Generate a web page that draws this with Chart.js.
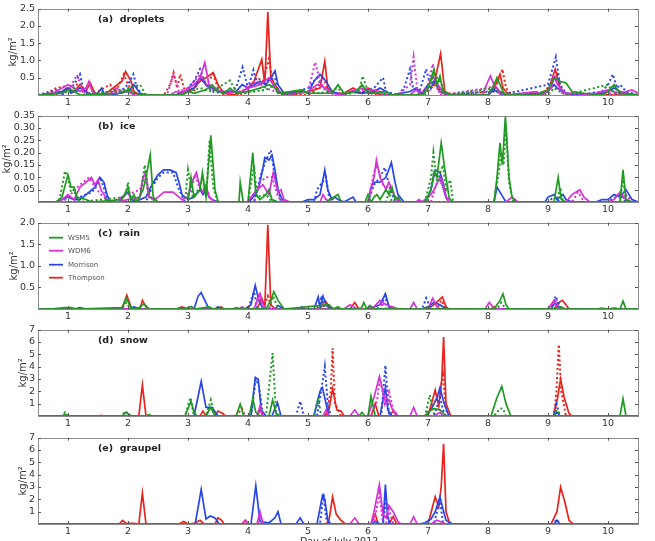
<!DOCTYPE html>
<html>
<head>
<meta charset="utf-8">
<script src="https://cdn.jsdelivr.net/npm/chart.js@4.4.1/dist/chart.umd.min.js"></script>
<style>
  html, body { margin: 0; padding: 0; background: #fff; overflow: hidden; }
  #wrap { position: relative; width: 655px; height: 541px; }
  #wrap canvas { position: absolute; left: 0; }
  #xtitle { position: absolute; top: 535px; left: 300px; white-space: nowrap;
            font: 9.5px "DejaVu Sans", sans-serif; color: #333; line-height: 11px; }
</style>
</head>
<body>
<div id="wrap">
  <canvas id="c0" width="655" height="118"></canvas>
  <canvas id="c1" width="655" height="118"></canvas>
  <canvas id="c2" width="655" height="118"></canvas>
  <canvas id="c3" width="655" height="118"></canvas>
  <canvas id="c4" width="655" height="118"></canvas>
  <div id="xtitle">Day of July 2012</div>
</div>
<script>
// ---- tick labels
const dayTicks = [1, 2, 3, 4, 5, 6, 7, 8, 9, 10];
const dropletsTicks = [0.5, 1.0, 1.5, 2.0, 2.5];
const iceTicks = [0.05, 0.10, 0.15, 0.20, 0.25, 0.30, 0.35];
const rainTicks = [0.5, 1.0, 1.5, 2.0];
const snowTicks = [1, 2, 3, 4, 5, 6, 7];
const graupelTicks = [1, 2, 3, 4, 5, 6, 7];

const models = ["WSM5", "WDM6", "Morrison", "Thompson"];
const modelColors = ["#1f9a22", "#d633d6", "#2846e6", "#e8241f"];

// ---- (a) droplets, [day, kg/m2]
const dropletsWSM5 = [[0.5,0],[0.6,0],[0.9,0.05],[1.0,0.15],[1.1,0.1],[1.2,0],[1.9,0.05],[2.0,0.15],[2.1,0.05],[2.3,0],[2.9,0],[3.0,0.1],[3.1,0.05],[3.3,0.15],[3.4,0.3],[3.5,0.1],[3.6,0.05],[3.7,0.2],[3.8,0.05],[4.0,0.1],[4.2,0.2],[4.35,0.3],[4.45,0.2],[4.5,0.05],[4.7,0.1],[4.9,0.15],[5.0,0.05],[5.4,0.05],[5.5,0.3],[5.6,0.05],[5.8,0.1],[5.9,0.3],[6.0,0.05],[6.3,0.1],[6.4,0],[6.9,0],[7.0,0.2],[7.1,0.75],[7.15,0.3],[7.2,0.55],[7.25,0.1],[7.4,0],[8.0,0],[8.1,0.3],[8.15,0.5],[8.25,0.1],[8.3,0],[8.8,0],[9.0,0.15],[9.1,0.5],[9.2,0.4],[9.3,0.35],[9.4,0.1],[9.6,0.05],[9.9,0],[10.0,0.1],[10.1,0.3],[10.2,0.05],[10.5,0]];
const dropletsWSM5Dot = [[0.5,0],[0.6,0],[1.0,0.1],[1.1,0.2],[1.2,0],[1.95,0.15],[2.2,0.3],[2.3,0],[2.9,0],[3.0,0.1],[3.2,0.2],[3.4,0.1],[3.7,0.42],[3.8,0.1],[3.9,0.05],[4.3,0.15],[4.45,0.3],[4.55,0],[5.0,0.1],[5.2,0.05],[5.5,0.2],[5.6,0],[5.85,0.1],[5.91,0.55],[6.0,0.1],[6.2,0.05],[6.4,0],[6.95,0],[7.05,0.3],[7.1,0.6],[7.2,0.4],[7.3,0],[8.1,0.2],[8.2,0.1],[8.3,0],[9.0,0],[9.1,0.2],[9.2,0.1],[9.3,0],[10.0,0.3],[10.1,0.05],[10.5,0]];
const dropletsWDM6 = [[0.5,0],[0.7,0],[0.9,0.2],[1.0,0.3],[1.1,0.2],[1.2,0.1],[1.3,0.2],[1.35,0.4],[1.4,0.1],[1.5,0],[1.7,0],[1.8,0.2],[1.9,0.1],[2.0,0.1],[2.1,0],[2.7,0],[2.8,0.1],[2.9,0.05],[3.1,0.3],[3.2,0.5],[3.28,0.94],[3.35,0.3],[3.45,0.2],[3.6,0.05],[3.9,0.1],[4.0,0.2],[4.2,0.3],[4.35,0.5],[4.45,0.2],[4.6,0],[5.0,0.1],[5.15,0.3],[5.3,0.2],[5.4,0.05],[5.6,0],[5.7,0.1],[5.9,0.2],[6.0,0.1],[6.1,0.15],[6.2,0.1],[6.3,0],[6.7,0],[6.8,0.15],[6.9,0],[7.0,0.2],[7.08,0.55],[7.2,0.2],[7.3,0],[7.9,0],[8.04,0.55],[8.1,0.3],[8.2,0.1],[8.3,0],[8.8,0.1],[8.9,0],[9.05,0.2],[9.1,0.5],[9.2,0.2],[9.3,0.05],[9.5,0.05],[9.7,0],[9.9,0.1],[10.0,0.15],[10.2,0.05],[10.4,0.15],[10.5,0.05]];
const dropletsWDM6Dot = [[0.5,0],[0.8,0],[1.0,0.1],[1.15,0.58],[1.25,0.1],[1.4,0],[1.85,0.1],[2.0,0.2],[2.1,0],[2.65,0],[2.76,0.6],[2.85,0.1],[3.0,0.2],[3.2,0.6],[3.35,0.2],[3.5,0.1],[3.9,0.1],[4.0,0.3],[4.15,0.4],[4.3,0.2],[4.45,0.1],[4.6,0],[5.0,0.1],[5.12,0.95],[5.2,0.4],[5.3,0.1],[5.5,0],[5.8,0.1],[6.0,0.2],[6.1,0.05],[6.5,0],[6.7,0.3],[6.76,1.1],[6.82,0.2],[6.9,0.05],[7.0,0.3],[7.08,0.9],[7.15,0.3],[7.2,0],[8.0,0.2],[8.1,0.3],[8.2,0],[9.0,0.1],[9.1,0.6],[9.2,0.1],[9.3,0],[9.8,0.05],[9.9,0.1],[10.0,0.05],[10.5,0]];
const dropletsMorrison = [[0.5,0],[0.6,0],[0.75,0.05],[0.9,0.1],[0.98,0.2],[1.05,0.05],[1.2,0.2],[1.3,0.1],[1.4,0],[1.5,0.05],[1.56,0.2],[1.6,0.05],[1.7,0],[2.0,0.1],[2.1,0.3],[2.2,0.05],[2.3,0],[2.8,0],[2.95,0.1],[3.1,0.2],[3.2,0.5],[3.3,0.3],[3.4,0.2],[3.5,0.1],[3.8,0.1],[3.9,0.3],[4.0,0.2],[4.1,0.3],[4.2,0.4],[4.3,0.3],[4.4,0.55],[4.45,0.7],[4.5,0.3],[4.6,0.05],[4.9,0.1],[5.0,0.05],[5.1,0.4],[5.2,0.6],[5.3,0.4],[5.4,0.1],[5.6,0],[5.7,0.1],[5.9,0.05],[6.1,0.1],[6.2,0.2],[6.3,0.1],[6.4,0],[6.7,0.1],[6.8,0.2],[6.9,0.05],[7.0,0.3],[7.1,0.4],[7.2,0.2],[7.3,0],[8.0,0],[8.1,0.15],[8.2,0.05],[8.3,0],[8.9,0.05],[9.0,0.1],[9.1,0.3],[9.15,0.2],[9.3,0.05],[9.5,0],[9.9,0.05],[10.0,0.1],[10.1,0.2],[10.2,0.1],[10.3,0.05],[10.5,0]];
const dropletsMorrisonDot = [[0.5,0],[0.7,0.1],[0.8,0.15],[0.9,0],[1.1,0.3],[1.2,0.6],[1.25,0.2],[1.3,0.1],[1.4,0],[1.8,0],[2.0,0.3],[2.09,0.6],[2.15,0.2],[2.25,0],[2.9,0],[3.1,0.4],[3.2,0.75],[3.3,0.3],[3.4,0.1],[3.6,0.05],[3.8,0.2],[3.91,0.8],[4.0,0.2],[4.09,0.72],[4.15,0.3],[4.3,0.4],[4.45,0.5],[4.5,0.1],[4.6,0],[4.8,0.1],[5.0,0.2],[5.15,0.5],[5.25,0.2],[5.4,0.05],[5.6,0],[5.75,0.1],[5.9,0.05],[6.1,0.2],[6.25,0.5],[6.3,0.1],[6.5,0],[6.6,0.2],[6.7,0.75],[6.75,0.2],[6.85,0.05],[6.97,0.75],[7.05,0.2],[7.1,0.4],[7.2,0.1],[7.3,0],[8.0,0.1],[8.1,0.2],[8.2,0],[9.0,0.3],[9.13,1.1],[9.2,0.3],[9.3,0.05],[9.5,0],[9.9,0.1],[10.0,0.3],[10.08,0.6],[10.15,0.2],[10.2,0.3],[10.3,0.1],[10.4,0.05],[10.5,0]];
const dropletsThompson = [[0.5,0],[0.7,0.05],[0.9,0.1],[1.0,0.2],[1.1,0.1],[1.2,0.3],[1.3,0.1],[1.37,0.35],[1.45,0.05],[1.6,0],[1.9,0.4],[1.96,0.68],[2.05,0.4],[2.1,0.1],[2.2,0],[2.8,0],[2.9,0.1],[3.0,0.1],[3.1,0.2],[3.2,0.4],[3.3,0.5],[3.42,0.65],[3.5,0.3],[3.6,0.05],[3.8,0],[4.0,0.2],[4.1,0.4],[4.23,1.03],[4.28,0.3],[4.33,2.4],[4.38,0.5],[4.45,0.3],[4.55,0.05],[4.7,0],[5.0,0.1],[5.2,0.2],[5.28,0.98],[5.33,0.2],[5.45,0.05],[5.6,0.05],[5.75,0.2],[5.9,0.05],[6.0,0.2],[6.1,0.1],[6.2,0],[6.9,0],[7.0,0.2],[7.1,0.3],[7.21,1.2],[7.28,0.1],[7.4,0],[8.0,0],[8.1,0.2],[8.2,0.6],[8.25,0.2],[8.35,0],[8.9,0],[9.0,0.1],[9.12,0.75],[9.2,0.2],[9.3,0.05],[9.6,0],[10.5,0]];
const dropletsThompsonDot = [[0.5,0],[0.6,0],[0.8,0.2],[0.95,0.25],[1.05,0.1],[1.15,0.3],[1.25,0.1],[1.4,0],[1.7,0.3],[1.8,0.1],[1.93,0.6],[2.0,0.3],[2.1,0.05],[2.2,0],[2.6,0],[2.7,0.3],[2.76,0.65],[2.82,0.2],[2.87,0.6],[2.95,0.1],[3.1,0.1],[3.2,0.5],[3.3,0.3],[3.42,0.6],[3.5,0.2],[3.6,0],[3.9,0],[4.0,0.1],[4.15,0.5],[4.25,0.4],[4.35,1.05],[4.42,0.3],[4.5,0.1],[4.6,0],[5.0,0],[5.1,0.1],[5.25,0.5],[5.35,0.1],[5.5,0],[5.8,0.1],[6.0,0.1],[6.1,0],[6.85,0],[7.0,0.1],[7.1,0.3],[7.2,0.1],[7.3,0],[8.1,0.1],[8.24,0.75],[8.3,0.2],[8.4,0],[8.9,0.05],[9.05,0.3],[9.15,0.6],[9.22,0.2],[9.3,0],[10.5,0]];

// ---- (b) ice
const iceWSM5 = [[0.5,0],[0.8,0],[0.9,0.02],[1.0,0.11],[1.05,0.06],[1.1,0.06],[1.15,0.02],[1.3,0.01],[1.4,0],[1.9,0.01],[2.0,0.06],[2.05,0.01],[2.1,0.03],[2.15,0],[2.25,0.05],[2.3,0.1],[2.37,0.19],[2.42,0.02],[2.5,0],[3.0,0],[3.05,0.1],[3.1,0.02],[3.2,0.05],[3.24,0.12],[3.3,0.02],[3.38,0.27],[3.45,0.05],[3.5,0],[3.85,0],[3.87,0.08],[3.92,0],[4.0,0],[4.08,0.2],[4.13,0.03],[4.2,0.01],[4.3,0.03],[4.35,0.05],[4.4,0.01],[4.5,0],[5.3,0],[5.5,0.03],[5.55,0],[5.95,0],[6.0,0.03],[6.05,0],[6.1,0.02],[6.15,0.03],[6.2,0.01],[6.3,0.05],[6.35,0.03],[6.4,0.06],[6.45,0.01],[6.5,0.02],[6.55,0],[6.95,0],[7.05,0.05],[7.1,0.12],[7.15,0.1],[7.22,0.24],[7.3,0.1],[7.35,0.02],[7.4,0],[8.1,0],[8.15,0.1],[8.2,0.24],[8.24,0.15],[8.29,0.35],[8.35,0.1],[8.4,0.02],[8.45,0],[9.1,0],[9.17,0.1],[9.22,0.01],[9.3,0],[10.2,0],[10.25,0.13],[10.3,0.01],[10.4,0],[10.5,0]];
const iceWSM5Dot = [[0.5,0],[0.85,0],[0.95,0.125],[1.0,0.1],[1.05,0.04],[1.1,0.05],[1.15,0.01],[1.2,0],[1.95,0.02],[2.0,0.08],[2.05,0],[2.2,0.02],[2.28,0.15],[2.33,0.05],[2.4,0.01],[2.5,0],[2.95,0],[3.0,0.13],[3.08,0.02],[3.2,0.06],[3.25,0.1],[3.3,0.02],[3.36,0.25],[3.42,0.06],[3.5,0],[4.0,0],[4.1,0.15],[4.15,0.02],[4.3,0.03],[4.4,0],[6.3,0],[6.35,0.04],[6.4,0],[6.95,0],[7.05,0.1],[7.09,0.2],[7.15,0.08],[7.25,0.15],[7.3,0.05],[7.37,0.09],[7.42,0],[8.1,0],[8.18,0.12],[8.22,0.2],[8.26,0.15],[8.3,0.3],[8.35,0.08],[8.42,0],[9.15,0],[9.2,0.06],[9.25,0],[10.2,0],[10.25,0.1],[10.3,0],[10.5,0]];
const iceWDM6 = [[0.5,0],[0.85,0],[0.9,0.01],[1.0,0.03],[1.1,0.01],[1.2,0.06],[1.3,0.08],[1.39,0.1],[1.45,0.07],[1.5,0.09],[1.55,0.05],[1.65,0.01],[1.8,0],[2.2,0.02],[2.25,0.1],[2.3,0.12],[2.35,0.02],[2.45,0.01],[2.6,0.04],[2.75,0.04],[2.9,0.01],[3.0,0.02],[3.05,0.07],[3.1,0.1],[3.14,0.12],[3.2,0.06],[3.25,0.04],[3.3,0.07],[3.35,0.02],[3.45,0],[4.0,0],[4.05,0.02],[4.15,0.05],[4.25,0.07],[4.35,0.03],[4.42,0.12],[4.5,0.04],[4.55,0.05],[4.6,0.01],[4.7,0],[5.2,0],[5.25,0.03],[5.3,0.01],[5.4,0],[6.0,0],[6.1,0.1],[6.14,0.17],[6.2,0.1],[6.3,0.05],[6.35,0.08],[6.45,0.02],[6.55,0],[6.8,0],[6.85,0.01],[6.9,0],[7.05,0.03],[7.1,0.05],[7.2,0.1],[7.25,0.08],[7.3,0.02],[7.35,0],[8.3,0],[8.4,0.02],[8.5,0],[9.3,0],[9.4,0.03],[9.53,0.05],[9.6,0.02],[9.7,0],[10.0,0],[10.1,0.01],[10.2,0.04],[10.3,0.01],[10.4,0],[10.5,0]];
const iceWDM6Dot = [[0.5,0],[0.9,0],[1.0,0.02],[1.2,0.07],[1.35,0.1],[1.45,0.06],[1.55,0.03],[1.7,0],[2.2,0.05],[2.28,0.11],[2.35,0.02],[2.5,0],[2.9,0],[3.05,0.05],[3.12,0.11],[3.2,0.05],[3.3,0.06],[3.4,0],[4.1,0],[4.2,0.08],[4.3,0.1],[4.4,0.1],[4.5,0.02],[4.6,0],[6.0,0],[6.1,0.12],[6.15,0.15],[6.25,0.07],[6.4,0.05],[6.5,0],[7.05,0],[7.15,0.08],[7.2,0.09],[7.3,0.02],[7.4,0],[9.4,0],[9.5,0.04],[9.6,0],[10.2,0],[10.3,0.03],[10.4,0],[10.5,0]];
const iceMorrison = [[0.5,0],[0.8,0],[0.9,0.01],[1.0,0.02],[1.1,0.01],[1.2,0.01],[1.35,0.04],[1.45,0.06],[1.53,0.1],[1.6,0.08],[1.65,0.03],[1.7,0],[1.85,0],[1.9,0.02],[2.0,0.04],[2.05,0.02],[2.1,0],[2.3,0.02],[2.4,0.07],[2.45,0.09],[2.5,0.11],[2.59,0.13],[2.7,0.13],[2.8,0.12],[2.85,0.08],[2.9,0.03],[3.0,0.01],[3.1,0.02],[3.2,0.05],[3.25,0.03],[3.3,0.05],[3.35,0.02],[3.4,0.01],[3.5,0],[4.0,0],[4.05,0.01],[4.15,0.04],[4.2,0.08],[4.25,0.14],[4.28,0.18],[4.35,0.17],[4.4,0.19],[4.45,0.13],[4.5,0.05],[4.55,0.02],[4.6,0],[4.9,0],[5.0,0.01],[5.1,0.01],[5.2,0.03],[5.28,0.13],[5.33,0.05],[5.4,0.01],[5.45,0.02],[5.5,0.01],[5.6,0],[5.75,0.02],[5.8,0],[6.0,0],[6.05,0.06],[6.1,0.08],[6.2,0.08],[6.3,0.1],[6.39,0.16],[6.45,0.08],[6.5,0.03],[6.6,0],[6.95,0],[7.0,0.02],[7.05,0.05],[7.12,0.13],[7.2,0.12],[7.25,0.08],[7.3,0.02],[7.35,0],[8.1,0],[8.15,0.06],[8.2,0.04],[8.25,0.02],[8.3,0],[8.95,0],[9.0,0.02],[9.1,0.03],[9.15,0.01],[9.25,0.03],[9.3,0.01],[9.4,0],[9.8,0],[9.9,0.01],[10.0,0.01],[10.1,0.03],[10.2,0.02],[10.3,0.05],[10.35,0.03],[10.4,0.01],[10.5,0]];
const iceMorrisonDot = [[0.5,0],[0.9,0],[1.0,0.02],[1.1,0.01],[1.4,0.04],[1.55,0.09],[1.65,0.02],[1.7,0],[2.3,0],[2.4,0.06],[2.5,0.1],[2.6,0.12],[2.75,0.12],[2.85,0.05],[2.95,0],[4.1,0],[4.2,0.1],[4.3,0.17],[4.38,0.21],[4.45,0.1],[4.55,0],[5.1,0],[5.15,0.05],[5.3,0.1],[5.35,0.02],[5.4,0],[6.0,0],[6.1,0.07],[6.2,0.1],[6.28,0.14],[6.35,0.07],[6.45,0],[7.0,0],[7.1,0.12],[7.2,0.1],[7.3,0.02],[7.35,0],[9.0,0],[9.1,0.02],[9.2,0],[10.0,0],[10.2,0.03],[10.3,0],[10.5,0]];
const iceThompson = [[0.5,0],[10.5,0]];
const iceThompsonDot = [[0.5,0],[10.5,0]];

// ---- (c) rain
const rainWSM5 = [[0.5,0],[0.7,0],[0.95,0.03],[1.05,0.03],[1.15,0],[1.9,0.03],[1.97,0.25],[2.05,0.03],[2.15,0],[2.27,0.12],[2.35,0],[2.95,0],[3.05,0.06],[3.12,0],[3.35,0.05],[3.42,0],[3.75,0],[3.8,0.03],[3.88,0],[4.3,0],[4.38,0.2],[4.43,0.4],[4.5,0.2],[4.6,0],[5.35,0.1],[5.42,0],[5.5,0.05],[5.55,0],[5.88,0],[5.93,0.15],[5.98,0],[6.03,0.08],[6.1,0],[8.1,0],[8.2,0.2],[8.25,0.35],[8.3,0.1],[8.35,0],[9.1,0],[9.2,0.05],[9.3,0],[10.2,0],[10.25,0.18],[10.3,0],[10.5,0]];
const rainWSM5Dot = [[0.5,0],[1.9,0],[1.97,0.15],[2.05,0],[4.35,0],[4.42,0.3],[4.5,0],[8.15,0],[8.22,0.15],[8.3,0],[10.5,0]];
const rainWDM6 = [[0.5,0],[1.7,0],[1.75,0.03],[1.8,0],[3.85,0],[3.9,0.05],[3.95,0],[4.1,0],[4.2,0.35],[4.25,0.1],[4.3,0],[5.6,0],[5.7,0.1],[5.8,0.02],[6.0,0],[6.1,0.05],[6.2,0.2],[6.3,0.1],[6.4,0.05],[6.5,0],[6.7,0],[6.76,0.15],[6.82,0],[7.0,0],[7.08,0.25],[7.15,0.05],[7.2,0],[7.95,0],[8.02,0.15],[8.1,0.02],[8.15,0],[9.0,0],[9.1,0.2],[9.15,0.05],[9.2,0],[9.8,0],[9.9,0.02],[10.0,0],[10.5,0]];
const rainWDM6Dot = [[0.5,0],[4.1,0],[4.19,0.38],[4.25,0],[6.15,0],[6.22,0.15],[6.3,0],[9.05,0],[9.12,0.25],[9.2,0],[10.5,0]];
const rainMorrison = [[0.5,0],[1.1,0],[1.2,0.03],[1.3,0],[2.0,0],[2.1,0.05],[2.2,0],[3.1,0],[3.17,0.3],[3.22,0.38],[3.28,0.2],[3.35,0],[3.45,0],[3.5,0.05],[3.55,0],[3.95,0],[4.05,0.1],[4.12,0.55],[4.18,0.2],[4.25,0],[4.45,0],[4.5,0.08],[4.6,0],[4.85,0],[4.9,0.05],[4.95,0],[5.1,0],[5.17,0.28],[5.2,0.05],[5.25,0.3],[5.3,0.1],[5.35,0.02],[5.4,0],[6.0,0],[6.1,0.05],[6.2,0.1],[6.29,0.35],[6.35,0.05],[6.45,0],[6.9,0],[7.0,0.05],[7.1,0.15],[7.2,0.1],[7.3,0],[9.05,0],[9.12,0.15],[9.2,0],[10.0,0],[10.1,0.02],[10.2,0],[10.5,0]];
const rainMorrisonDot = [[0.5,0],[4.0,0],[4.1,0.4],[4.16,0],[5.15,0],[5.22,0.25],[5.28,0],[6.2,0],[6.28,0.3],[6.35,0],[6.9,0],[6.97,0.25],[7.05,0],[9.05,0],[9.13,0.3],[9.2,0],[10.5,0]];
const rainThompson = [[0.5,0],[1.9,0],[1.98,0.32],[2.05,0.05],[2.1,0],[2.2,0],[2.24,0.2],[2.3,0.05],[2.35,0],[2.8,0],[2.9,0.05],[3.0,0],[3.5,0],[3.55,0.05],[3.6,0],[4.15,0],[4.23,0.25],[4.28,0.05],[4.33,1.95],[4.38,0.1],[4.45,0],[5.2,0],[5.28,0.2],[5.35,0.05],[5.45,0],[5.7,0],[5.78,0.15],[5.85,0],[6.3,0],[6.4,0.05],[6.5,0],[7.0,0],[7.1,0.1],[7.24,0.28],[7.3,0.05],[7.35,0],[8.05,0],[8.1,0.05],[8.15,0],[9.1,0],[9.18,0.15],[9.24,0.2],[9.3,0.1],[9.35,0],[10.5,0]];
const rainThompsonDot = [[0.5,0],[4.25,0],[4.33,0.3],[4.4,0],[5.25,0],[5.3,0.15],[5.38,0],[7.15,0],[7.22,0.2],[7.3,0],[9.1,0],[9.18,0.12],[9.25,0],[10.5,0]];

// ---- (d) snow
const snowWSM5 = [[0.5,0],[0.9,0],[0.95,0.15],[1.0,0],[1.9,0],[1.97,0.3],[2.05,0],[2.3,0],[2.35,0.1],[2.4,0],[2.95,0],[3.05,1.2],[3.1,0.3],[3.15,0],[3.3,0],[3.38,0.7],[3.45,0],[3.8,0],[3.87,0.95],[3.93,0],[4.02,0],[4.08,1.4],[4.13,0.3],[4.2,0],[4.35,0],[4.41,1.3],[4.47,0.2],[4.55,0],[5.85,0],[5.9,0.3],[5.95,0],[6.0,0],[6.05,1.6],[6.12,0],[6.95,0],[7.05,0.5],[7.1,0.6],[7.2,0.5],[7.3,0],[8.05,0],[8.15,1.5],[8.23,2.4],[8.3,1.0],[8.38,0],[10.2,0],[10.25,1.4],[10.3,0],[10.5,0]];
const snowWSM5Dot = [[0.5,0],[0.9,0],[0.95,0.3],[1.0,0],[1.9,0],[1.95,0.4],[2.05,0],[2.95,0],[3.04,1.5],[3.1,0],[3.3,0],[3.38,1.3],[3.45,0],[4.3,0],[4.41,5.1],[4.47,0],[5.1,0],[5.17,1.5],[5.22,0],[6.95,0],[7.03,1.7],[7.08,0.3],[7.15,0],[8.1,0],[8.2,0.6],[8.25,0.6],[8.3,0],[9.1,0],[9.15,0.5],[9.2,0],[10.5,0]];
const snowWDM6 = [[0.5,0],[4.15,0],[4.2,0.8],[4.25,0],[5.25,0],[5.3,0.5],[5.35,0],[5.7,0],[5.78,0.5],[5.85,0],[6.0,0],[6.1,1.5],[6.19,3.2],[6.25,2.0],[6.3,1.0],[6.35,1.3],[6.4,0.6],[6.45,0.3],[6.5,0],[6.7,0],[6.76,0.7],[6.82,0],[7.1,0],[7.2,0.3],[7.25,0],[10.5,0]];
const snowWDM6Dot = [[0.5,0],[6.05,0],[6.15,1.2],[6.2,3.0],[6.28,1.0],[6.35,2.0],[6.42,0.5],[6.5,0],[10.5,0]];
const snowMorrison = [[0.5,0],[3.1,0],[3.22,2.8],[3.3,0.7],[3.4,0.7],[3.5,0],[4.05,0],[4.12,3.1],[4.17,3.0],[4.22,0.5],[4.3,0],[4.4,0],[4.49,1.1],[4.55,0],[5.1,0],[5.2,2.0],[5.24,2.3],[5.3,1.0],[5.35,0],[6.2,0],[6.29,2.3],[6.33,0.5],[6.4,0],[6.95,0],[7.05,0.5],[7.15,1.5],[7.2,2.3],[7.27,1.0],[7.35,0],[9.1,0],[9.15,0.3],[9.2,0],[10.5,0]];
const snowMorrisonDot = [[0.5,0],[3.3,0],[3.38,0.8],[3.45,0],[4.05,0],[4.13,3.0],[4.18,2.5],[4.25,0],[4.8,0],[4.87,1.2],[4.93,0],[5.15,0],[5.25,3.0],[5.28,4.0],[5.33,1.0],[5.38,0],[6.22,0],[6.29,4.1],[6.35,0],[7.1,0],[7.2,1.5],[7.25,0.5],[7.3,0],[9.08,0],[9.14,1.0],[9.2,0],[10.5,0]];
const snowThompson = [[0.5,0],[1.5,0],[1.55,0.05],[1.6,0],[2.18,0],[2.24,2.5],[2.3,0],[3.2,0],[3.25,0.4],[3.3,0],[3.45,0],[3.5,0.4],[3.58,0.2],[3.62,0],[4.15,0],[4.2,0.5],[4.25,0],[5.28,0],[5.35,0.5],[5.41,2.2],[5.48,0.5],[5.55,0.4],[5.6,0],[6.05,0],[6.12,1.0],[6.18,0],[6.35,0],[6.42,0.4],[6.48,0],[7.0,0],[7.12,2.1],[7.18,0.8],[7.23,3.0],[7.26,6.4],[7.3,1.0],[7.38,0],[9.1,0],[9.16,1.5],[9.21,3.0],[9.27,1.5],[9.35,0.2],[9.4,0],[10.5,0]];
const snowThompsonDot = [[0.5,0],[3.8,0],[3.9,0.6],[3.95,0],[5.3,0],[5.38,2.0],[5.41,5.5],[5.45,1.0],[5.55,0],[6.95,0],[7.1,1.0],[7.2,2.0],[7.25,3.3],[7.3,0.5],[7.35,0],[9.1,0],[9.14,2.0],[9.18,5.8],[9.22,2.0],[9.3,0],[10.5,0]];

// ---- (e) graupel (WSM5 has none)
const graupelWSM5 = [[0.5,0],[10.5,0]];
const graupelWSM5Dot = [[0.5,0],[10.5,0]];
const graupelWDM6 = [[0.5,0],[3.9,0],[3.95,0.3],[4.0,0],[4.15,0],[4.2,1.0],[4.25,0],[5.7,0],[5.78,0.5],[5.85,0],[6.05,0],[6.1,1.0],[6.19,3.2],[6.25,0.8],[6.3,0.5],[6.35,1.5],[6.42,1.0],[6.5,0.2],[6.55,0],[6.7,0],[6.76,0.6],[6.82,0],[7.05,0],[7.15,0.3],[7.25,0.1],[7.3,0],[10.5,0]];
const graupelWDM6Dot = [[0.5,0],[4.15,0],[4.2,0.5],[4.25,0],[6.1,0],[6.19,2.5],[6.25,0],[6.3,0],[6.35,1.2],[6.42,0],[10.5,0]];
const graupelMorrison = [[0.5,0],[3.12,0],[3.22,2.8],[3.3,0.4],[3.37,0.65],[3.45,0.5],[3.52,0],[4.05,0],[4.13,3.1],[4.2,0.2],[4.35,0.1],[4.45,0.5],[4.5,1.0],[4.55,0],[4.8,0],[4.87,0.5],[4.93,0],[5.15,0],[5.24,2.3],[5.28,2.0],[5.33,0.3],[5.38,0],[6.05,0],[6.12,0.2],[6.2,0],[6.25,0],[6.29,3.2],[6.33,0.5],[6.38,0],[6.85,0],[6.95,0.1],[7.05,0.4],[7.12,1.0],[7.2,2.2],[7.25,1.2],[7.3,0.3],[7.4,0],[9.1,0],[9.15,0.3],[9.2,0],[10.5,0]];
const graupelMorrisonDot = [[0.5,0],[5.2,0],[5.26,2.5],[5.3,0.5],[5.35,0],[6.25,0],[6.3,2.0],[6.35,0],[7.1,0],[7.2,2.0],[7.25,0],[9.1,0],[9.14,0.4],[9.2,0],[10.5,0]];
const graupelThompson = [[0.5,0],[1.85,0],[1.91,0.3],[1.97,0.05],[2.1,0.05],[2.18,0],[2.24,2.5],[2.3,0],[2.85,0],[2.93,0.2],[3.0,0],[3.1,0.05],[3.2,0.3],[3.27,0],[3.45,0],[3.5,0.5],[3.56,0.3],[3.6,0],[3.9,0],[3.96,0.3],[4.0,0],[5.3,0],[5.35,0.3],[5.41,2.2],[5.47,0.8],[5.55,0.3],[5.62,0],[6.05,0],[6.12,0.8],[6.17,0],[6.35,0],[6.42,0.6],[6.48,0],[7.0,0],[7.12,2.2],[7.18,1.4],[7.22,3.0],[7.26,6.5],[7.3,1.0],[7.35,0.2],[7.4,0],[9.05,0],[9.15,1.0],[9.21,3.0],[9.28,1.8],[9.35,0.3],[9.42,0],[10.5,0]];
const graupelThompsonDot = [[0.5,0],[10.5,0]];

const panels = [
  { id: "c0", top: 0,   label: "(a)  droplets", max: 2.5,  ticks: dropletsTicks, dec: 1, titleX: 13,
    solid: [dropletsWSM5, dropletsWDM6, dropletsMorrison, dropletsThompson],
    dotted: [dropletsWSM5Dot, dropletsWDM6Dot, dropletsMorrisonDot, dropletsThompsonDot] },
  { id: "c1", top: 107, label: "(b)  ice", max: 0.35, ticks: iceTicks, dec: 2, titleX: 7,
    solid: [iceWSM5, iceWDM6, iceMorrison, iceThompson],
    dotted: [iceWSM5Dot, iceWDM6Dot, iceMorrisonDot, iceThompsonDot] },
  { id: "c2", top: 214, label: "(c)  rain", max: 2.0, ticks: rainTicks, dec: 1, titleX: 14, legend: true,
    solid: [rainWSM5, rainWDM6, rainMorrison, rainThompson],
    dotted: [rainWSM5Dot, rainWDM6Dot, rainMorrisonDot, rainThompsonDot] },
  { id: "c3", top: 321, label: "(d)  snow", max: 7, ticks: snowTicks, dec: 0, titleX: 23,
    solid: [snowWSM5, snowWDM6, snowMorrison, snowThompson],
    dotted: [snowWSM5Dot, snowWDM6Dot, snowMorrisonDot, snowThompsonDot] },
  { id: "c4", top: 429, label: "(e)  graupel", max: 7, ticks: graupelTicks, dec: 0, titleX: 23,
    solid: [graupelWSM5, graupelWDM6, graupelMorrison, graupelThompson],
    dotted: [graupelWSM5Dot, graupelWDM6Dot, graupelMorrisonDot, graupelThompsonDot] },
];

// frame, inward ticks, panel label, y title, legend
const decorPlugin = {
  id: "decor",
  afterDraw(chart, args, opts) {
    const { ctx, chartArea: a, scales } = chart;
    ctx.save();
    ctx.strokeStyle = "#8c8c8c";
    ctx.lineWidth = 1;
    ctx.strokeRect(Math.round(a.left) + 0.5, Math.round(a.top) + 0.5, Math.round(a.right - a.left), Math.round(a.bottom - a.top));
    ctx.strokeStyle = "#555";
    ctx.beginPath();
    scales.x.ticks.forEach((t) => {
      const x = Math.round(scales.x.getPixelForValue(t.value)) + 0.5;
      ctx.moveTo(x, a.bottom); ctx.lineTo(x, a.bottom - 3);
      ctx.moveTo(x, a.top); ctx.lineTo(x, a.top + 3);
    });
    scales.y.ticks.forEach((t) => {
      const y = Math.round(scales.y.getPixelForValue(t.value)) + 0.5;
      ctx.moveTo(a.left, y); ctx.lineTo(a.left + 3, y);
      ctx.moveTo(a.right, y); ctx.lineTo(a.right - 3, y);
    });
    ctx.stroke();

    ctx.fillStyle = "#222";
    ctx.font = "bold 9.5px 'DejaVu Sans', sans-serif";
    ctx.textBaseline = "middle";
    ctx.fillText(opts.label, 98, a.top + 11);

    ctx.save();
    ctx.translate(opts.titleX, (a.top + a.bottom) / 2);
    ctx.rotate(-Math.PI / 2);
    ctx.textAlign = "center";
    ctx.font = "10px 'DejaVu Sans', sans-serif";
    ctx.fillStyle = "#333";
    ctx.fillText("kg/m²", 0, 0);
    ctx.restore();

    if (opts.legend) {
      const rows = [15, 28, 42, 55];
      ctx.font = "7px 'DejaVu Sans', sans-serif";
      ctx.lineWidth = 1.8;
      models.forEach((m, i) => {
        const y = a.top + rows[i];
        ctx.strokeStyle = modelColors[i];
        ctx.beginPath(); ctx.moveTo(49, y); ctx.lineTo(63, y); ctx.stroke();
        ctx.fillStyle = "#555";
        ctx.fillText(m, 68, y);
      });
    }
    ctx.restore();
  },
};

panels.forEach((p) => {
  const cv = document.getElementById(p.id);
  cv.style.top = p.top + "px";
  const datasets = [];
  models.forEach((m, i) => {
    datasets.push({ label: m, data: p.solid[i].map(([x, y]) => ({ x, y })), borderColor: modelColors[i], borderWidth: 1.7 });
    datasets.push({ label: m + " dotted", data: p.dotted[i].map(([x, y]) => ({ x, y })), borderColor: modelColors[i], borderWidth: 2, borderDash: [2, 2.5] });
  });
  new Chart(cv, {
    type: "line",
    data: { datasets },
    options: {
      responsive: false,
      animation: false,
      layout: { padding: { top: 6, right: 17, left: 0, bottom: 0 } },
      elements: { point: { radius: 0 }, line: { tension: 0, fill: false } },
      plugins: { legend: { display: false }, tooltip: { enabled: false }, decor: { label: p.label, legend: !!p.legend, titleX: p.titleX } },
      scales: {
        x: {
          type: "linear", min: 0.5, max: 10.5,
          afterBuildTicks: (s) => { s.ticks = dayTicks.map((v) => ({ value: v })); },
          afterFit: (s) => { s.height = 23; },
          grid: { display: false, drawTicks: false }, border: { display: false },
          ticks: { padding: 2, color: "#333", font: { family: "DejaVu Sans", size: 9.5 }, maxRotation: 0, autoSkip: false, callback: (v) => String(v) },
        },
        y: {
          min: 0, max: p.max,
          afterBuildTicks: (s) => { s.ticks = p.ticks.map((v) => ({ value: v })); },
          afterFit: (s) => { s.width = 38; },
          grid: { display: false, drawTicks: false }, border: { display: false },
          ticks: { padding: 3, color: "#333", font: { family: "DejaVu Sans", size: 9.5 }, autoSkip: false, callback: (v) => Number(v).toFixed(p.dec) },
        },
      },
    },
    plugins: [decorPlugin],
  });
});
</script>
</body>
</html>
